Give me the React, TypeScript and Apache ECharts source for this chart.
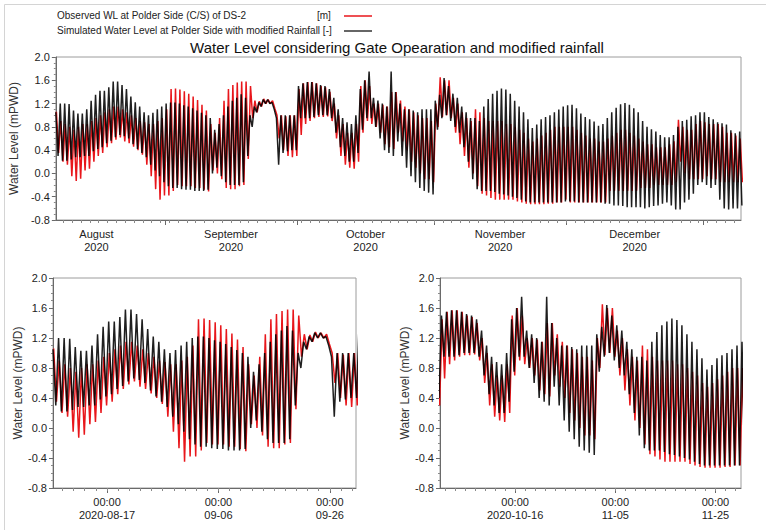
import React, { useEffect, useRef } from 'react';
import * as echarts from 'echarts';

// x values are days since 2020-08-01 00:00; first daily value is 2020-08-07
const START_DAY = 6;

// Simulated (black) daily high / low water levels, Aug 7 2020 .. Jan 9 2021
const simHigh = [
  1.05, 1.2, 1.2, 1.19, 1.08, 1.03, 1.03, 1.1, 1.25, 1.35, 1.42, 1.42, 1.48, 1.58, 1.58, 1.52, 1.45, 1.32, 1.22, 1.15, 1.05, 1.0, 1.04, 1.1, 1.15,
  1.2, 1.22, 1.22, 1.2, 1.17, 1.15, 1.12, 1.08, 1.04, 1.0, 0.95, 0.75, 0.85, 1.0, 1.15, 1.25, 1.3, 1.36, 1.3, 1.0, 1.15, 1.22, 1.27, 1.27, 1.22, 0.95, 1.0, 1.0, 1.0, 1.0,
  1.5, 1.55, 1.57, 1.57, 1.55, 1.52, 1.5, 1.45, 1.3, 1.1, 0.95, 0.88, 0.85, 1.0, 1.45, 1.6, 1.75, 1.3, 1.25, 1.2, 1.15, 1.75, 1.4, 1.2, 1.1, 1.1, 1.08, 1.05, 1.1, 1.1, 1.1,
  1.25, 1.35, 1.64, 1.5, 1.37, 1.3, 1.15, 1.05, 0.95, 0.95, 0.9, 1.15, 1.28, 1.37, 1.42, 1.46, 1.44, 1.37, 1.25, 1.15, 1.05, 0.93, 0.78, 0.84, 0.93, 0.97, 1.0, 1.05, 1.1, 1.15,
  1.17, 1.18, 1.12, 1.03, 0.97, 0.93, 0.89, 0.82, 0.85, 0.95, 1.05, 1.13, 1.19, 1.21, 1.18, 1.12, 1.05, 0.9, 0.8, 0.76, 0.72, 0.66, 0.62, 0.62, 0.66, 0.8, 0.9, 0.92, 0.98, 1.0, 1.05,
  1.05, 0.97, 0.93, 0.88, 0.86, 0.84, 0.74, 0.69, 0.72,
];
const simLow = [
  0.3, 0.22, 0.22, 0.24, 0.28, 0.28, 0.3, 0.3, 0.38, 0.42, 0.45, 0.52, 0.56, 0.62, 0.66, 0.64, 0.6, 0.5, 0.42, 0.35, 0.28, 0.15, 0.05, -0.05, -0.15,
  -0.22, -0.25, -0.25, -0.27, -0.28, -0.28, -0.3, -0.3, -0.3, -0.28, 0.0, 0.1, -0.05, -0.15, -0.2, -0.2, -0.2, -0.15, 0.3, 0.8, 1.05, 1.15, 1.2, 1.2, 1.1, 0.15, 0.35, 0.38, 0.4, 0.4,
  0.95, 0.95, 0.95, 0.97, 1.0, 1.0, 1.0, 0.95, 0.7, 0.45, 0.3, 0.2, 0.2, 0.35, 0.75, 0.95, 0.95, 0.8, 0.6, 0.4, 0.35, 0.3, 0.55, 0.3, 0.1, -0.05, -0.15, -0.25, -0.3, -0.33, -0.36,
  0.75, 0.95, 1.0, 0.9, 0.8, 0.7, 0.45, 0.2, -0.1, -0.27, -0.3, -0.3, -0.3, -0.32, -0.35, -0.36, -0.38, -0.4, -0.42, -0.45, -0.48, -0.5, -0.5, -0.5, -0.5, -0.5, -0.5, -0.5, -0.5, -0.48,
  -0.48, -0.48, -0.5, -0.5, -0.5, -0.5, -0.5, -0.5, -0.52, -0.52, -0.55, -0.55, -0.56, -0.58, -0.58, -0.58, -0.58, -0.6, -0.58, -0.56, -0.55, -0.52, -0.5, -0.55, -0.62, -0.62, -0.5, -0.45, -0.35, -0.2, -0.15,
  -0.2, -0.25, -0.2, -0.45, -0.6, -0.62, -0.6, -0.6, -0.55,
];

// Observed (red) daily high / low water levels
const obsHigh = [
  1.06, 0.9, 0.85, 0.8, 0.75, 0.8, 0.85, 0.85, 0.9, 0.95, 1.0, 1.05, 1.1, 1.15, 1.15, 1.1, 1.05, 1.0, 0.95, 0.9, 0.88, 0.85, 0.85, 0.9, 0.95,
  1.1, 1.45, 1.46, 1.44, 1.41, 1.37, 1.32, 1.26, 1.18, 1.08, 0.85, 0.7, 0.95, 1.25, 1.45, 1.52, 1.56, 1.58, 1.58, 1.5, 1.25, 1.24, 1.28, 1.27, 1.25, 1.0, 1.0, 0.98, 1.0, 1.0,
  1.45, 1.55, 1.57, 1.57, 1.55, 1.5, 1.48, 1.4, 1.2, 1.0, 0.85, 0.7, 0.7, 0.85, 1.5, 1.6, 1.5, 1.2, 1.2, 1.18, 1.15, 1.4, 1.4, 1.25, 1.15, 1.1, 1.05, 1.0, 0.95, 0.95, 0.9,
  1.2, 1.65, 1.6, 1.6, 1.3, 1.2, 1.05, 0.95, 0.9, 1.1, 1.05, 0.95, 0.9, 0.9, 0.9, 0.9, 0.85, 0.85, 0.8, 0.75, 0.7, 0.6, 0.55, 0.6, 0.65, 0.7, 0.75, 0.8, 0.8, 0.8,
  0.8, 0.8, 0.75, 0.7, 0.65, 0.6, 0.6, 0.55, 0.55, 0.6, 0.65, 0.7, 0.75, 0.75, 0.7, 0.65, 0.6, 0.55, 0.5, 0.5, 0.45, 0.45, 0.45, 0.5, 0.55, 0.92, 0.8, 0.75, 0.75, 0.85, 0.9,
  0.88, 0.85, 0.85, 0.85, 0.8, 0.7, 0.7, 0.65, 0.6,
];
const obsLow = [
  0.35, 0.2, 0.15, -0.05, -0.13, -0.09, 0.05, 0.08, 0.2, 0.3, 0.35, 0.45, 0.52, 0.58, 0.62, 0.55, 0.52, 0.46, 0.4, 0.32, 0.15, -0.05, -0.27, -0.45, -0.38,
  -0.38, -0.3, -0.2, -0.22, -0.22, -0.22, -0.25, -0.25, -0.28, -0.31, 0.05, 0.0, -0.1, -0.25, -0.27, -0.27, -0.22, -0.2, 0.25, 0.95, 1.05, 1.15, 1.2, 1.2, 1.12, 0.6, 0.4, 0.3, 0.28, 0.3,
  0.66, 0.85, 0.9, 0.95, 0.97, 0.97, 0.98, 0.9, 0.6, 0.3, 0.15, 0.1, 0.08, 0.2, 0.7, 0.9, 0.85, 0.8, 0.7, 0.5, 0.45, 0.42, 0.7, 0.55, 0.4, 0.2, 0.1, 0.0, -0.1, -0.1, -0.15,
  0.8, 0.97, 1.0, 0.95, 0.7, 0.5, 0.3, 0.1, 0.0, -0.22, -0.35, -0.38, -0.42, -0.45, -0.45, -0.45, -0.45, -0.45, -0.48, -0.5, -0.52, -0.53, -0.53, -0.53, -0.53, -0.52, -0.52, -0.5, -0.5, -0.45,
  -0.5, -0.5, -0.5, -0.5, -0.5, -0.5, -0.5, -0.5, -0.5, -0.3, -0.3, -0.3, -0.3, -0.3, -0.3, -0.3, -0.25, -0.25, -0.25, -0.2, -0.2, -0.2, -0.2, -0.2, -0.15, 0.2, 0.0, -0.1, -0.1, -0.1, -0.1,
  -0.05, -0.1, -0.1, -0.15, -0.15, -0.15, -0.15, -0.15, -0.15,
];

// Axis ticks / labels (days since 2020-08-01)
const monthTicks = [31, 61, 92, 122, 153];
const monthLabelPos = [15.5, 46, 76.5, 107, 137.5];
const monthLabels = ['August\n2020', 'September\n2020', 'October\n2020', 'November\n2020', 'December\n2020'];
const leftTicks = [16, 36, 56];
const leftLabels = ['00:00\n2020-08-17', '00:00\n09-06', '00:00\n09-26'];
const rightTicks = [76, 96, 116];
const rightLabels = ['00:00\n2020-10-16', '00:00\n11-05', '00:00\n11-25'];

const FONT = 'Liberation Sans, Arial, sans-serif';
const RED = '#e8161b';

function buildPoints(hi: number[], lo: number[], offHi: number, offLo: number) {
  const pts: number[][] = [];
  hi.forEach((h, i) => {
    pts.push([START_DAY + i + offHi, h]);
    pts.push([START_DAY + i + offLo, lo[i]]);
  });
  return pts;
}

function range(a: number, b: number, step: number) {
  const r: number[] = [];
  for (let v = a; v <= b + 1e-9; v += step) r.push(v);
  return r;
}

export default function App() {
  const ref = useRef<HTMLDivElement>(null);
  useEffect(() => {
    if (!ref.current) return;
    const chart = echarts.init(ref.current, null, { renderer: 'svg' });
    const obsPts = buildPoints(obsHigh, obsLow, 0.42, 0.92);
    const simPts = buildPoints(simHigh, simLow, 0.3, 0.8);

    const panels = [
      { grid: { left: 53, top: 57, width: 688, height: 163 }, min: 6.3, max: 161.6, ticks: monthTicks, labelPos: monthLabelPos, labels: monthLabels, minor: range(8, 160, 2) },
      { grid: { left: 53, top: 278, width: 303, height: 210 }, min: 6.3, max: 60.7, ticks: leftTicks, labelPos: leftTicks, labels: leftLabels, minor: range(8, 60, 2) },
      { grid: { left: 440, top: 278, width: 301, height: 210 }, min: 61, max: 121.1, ticks: rightTicks, labelPos: rightTicks, labels: rightLabels, minor: range(62, 120, 2) },
    ];

    const grids: any[] = [];
    const xAxes: any[] = [];
    const yAxes: any[] = [];
    const series: any[] = [];
    panels.forEach((p, g) => {
      grids.push({ ...p.grid, show: true, borderColor: '#9c9c9c', borderWidth: 1, containLabel: false });
      xAxes.push({
        type: 'value', gridIndex: g, position: 'bottom', min: p.min, max: p.max,
        axisLine: { show: true, onZero: false, lineStyle: { color: '#6a6a6a', width: 1 } },
        axisTick: { show: true, customValues: p.ticks, length: 5, lineStyle: { color: '#6a6a6a' } },
        axisLabel: {
          customValues: p.labelPos,
          formatter: (v: number) => {
            const i = p.labelPos.findIndex((q) => Math.abs(q - v) < 1e-6);
            return i >= 0 ? p.labels[i] : '';
          },
          fontSize: 11, fontFamily: FONT, color: '#222', lineHeight: 13, margin: 7,
        },
        splitLine: { show: false },
      });
      xAxes.push({
        type: 'value', gridIndex: g, position: 'bottom', offset: 0, min: p.min, max: p.max,
        axisLine: { show: false, onZero: false },
        axisTick: { show: true, customValues: p.minor, length: 3, lineStyle: { color: '#8a8a8a' } },
        axisLabel: { show: false },
        splitLine: { show: false },
      });
      yAxes.push({
        type: 'value', gridIndex: g, min: -0.8, max: 2.0, interval: 0.4,
        name: 'Water Level (mPWD)', nameLocation: 'middle', nameGap: 26, nameRotate: 90,
        nameTextStyle: { fontSize: 12, fontFamily: FONT, color: '#333' },
        axisLine: { show: true, onZero: false, lineStyle: { color: '#6a6a6a', width: 1 } },
        axisTick: { show: true, length: 4, lineStyle: { color: '#6a6a6a' } },
        minorTick: { show: true, splitNumber: 4, length: 2, lineStyle: { color: '#8a8a8a' } },
        axisLabel: { formatter: (v: number) => v.toFixed(1), fontSize: 11, fontFamily: FONT, color: '#222', margin: 6 },
        splitLine: { show: false },
      });
      series.push({
        type: 'line', xAxisIndex: 2 * g, yAxisIndex: g, data: obsPts, symbol: 'none', showSymbol: false,
        silent: true, clip: true, z: 2, lineStyle: { color: RED, width: 1.5 },
      });
      series.push({
        type: 'line', xAxisIndex: 2 * g, yAxisIndex: g, data: simPts, symbol: 'none', showSymbol: false,
        silent: true, clip: true, z: 3, lineStyle: { color: '#000', width: 1.5, opacity: 0.88 },
      });
    });

    chart.setOption({
      animation: false,
      backgroundColor: '#fff',
      grid: grids,
      xAxis: xAxes,
      yAxis: yAxes,
      series,
      graphic: [
        { type: 'rect', shape: { x: 4.5, y: 4.5, width: 900, height: 700 }, style: { fill: 'none', stroke: '#d4d4d4', lineWidth: 1 }, silent: true },
        { type: 'text', x: 57, y: 15, style: { text: 'Observed WL at Polder Side (C/S) of DS-2', fontSize: 10, fontFamily: FONT, fill: '#222', verticalAlign: 'middle' } },
        { type: 'text', x: 317, y: 15, style: { text: '[m]', fontSize: 10, fontFamily: FONT, fill: '#222', verticalAlign: 'middle' } },
        { type: 'line', shape: { x1: 344, y1: 16, x2: 372, y2: 16 }, style: { stroke: RED, lineWidth: 1.5 } },
        { type: 'text', x: 57, y: 30, style: { text: 'Simulated Water Level at Polder Side with modified Rainfall [-]', fontSize: 10, fontFamily: FONT, fill: '#222', verticalAlign: 'middle' } },
        { type: 'line', shape: { x1: 344, y1: 31, x2: 372, y2: 31 }, style: { stroke: '#333', lineWidth: 1.5 } },
        { type: 'text', x: 397, y: 47, style: { text: 'Water Level considering Gate Opearation and modified rainfall', fontSize: 15, fontFamily: FONT, fill: '#111', align: 'center', verticalAlign: 'middle' } },
      ],
    });
    return () => chart.dispose();
  }, []);
  return <div ref={ref} style={{ position: 'fixed', left: 0, top: 0, width: 766, height: 530, background: '#fff' }} />;
}
